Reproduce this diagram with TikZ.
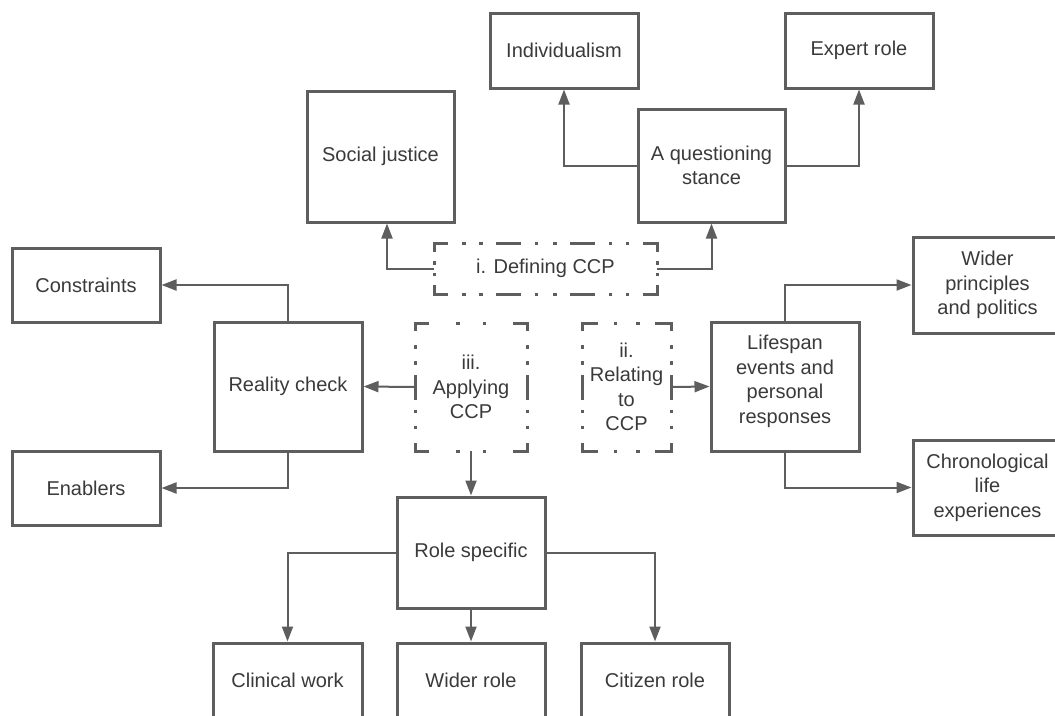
\documentclass[tikz,border=0pt]{standalone}
\usepackage{fontspec}
\setmainfont{Liberation Sans}
\usetikzlibrary{arrows.meta,calc}
\definecolor{ln}{HTML}{5E5E5E}
\definecolor{tx}{HTML}{3A3A3A}
\newcommand\dashedframe[3]{%
  \draw[dline, dash pattern=#2] (#1.north west) -- (#1.north);
  \draw[dline, dash pattern=#2] (#1.north east) -- (#1.north);
  \draw[dline, dash pattern=#2] (#1.south west) -- (#1.south);
  \draw[dline, dash pattern=#2] (#1.south east) -- (#1.south);
  \draw[dline, dash pattern=#3] (#1.north west) -- (#1.west);
  \draw[dline, dash pattern=#3] (#1.south west) -- (#1.west);
  \draw[dline, dash pattern=#3] (#1.north east) -- (#1.east);
  \draw[dline, dash pattern=#3] (#1.south east) -- (#1.east);
}
\begin{document}
\begin{tikzpicture}[x=1pt,y=-1pt,
  box/.style={draw=ln, line width=3pt, text=tx, align=center, inner sep=2pt,
    font=\fontsize{20}{24.5}\selectfont},
  dbox/.style={text=tx, align=center, outer sep=0pt, inner sep=0pt,
    font=\fontsize{20}{24.5}\selectfont},
  arr/.style={draw=ln, line width=2pt, -{Triangle[length=15pt,width=11pt]}},
  dline/.style={draw=ln, line width=3pt, line cap=rect},
]
\useasboundingbox (0,0) rectangle (1055,715);
\clip (0,0) rectangle (1055,715);

% solid boxes
\node[box, minimum width=148pt, minimum height=75pt] (indiv) at (564,50.5) {Individualism};
\node[box, minimum width=148pt, minimum height=75pt] (expert) at (859,50.5) {Expert role};
\node[box, minimum width=147pt, minimum height=131pt] (socj) at (380.5,156.5) {Social justice};
\node[box, minimum width=147pt, minimum height=113pt] (qs) at (711.5,165.5) {A questioning\\stance};
\node[box, minimum width=148pt, minimum height=74pt] (constr) at (86,285) {Constraints};
\node[box, minimum width=148pt, minimum height=129pt] (reality) at (288,386.5) {Reality check};
\node[box, minimum width=148pt, minimum height=74pt] (enabl) at (86,488) {Enablers};
\node[box, minimum width=148pt, minimum height=129pt] (life) at (785,386.5) {};
\node[text=tx, align=center, font=\fontsize{20}{24.5}\selectfont] (lifetxt) at ([yshift=5pt]life.center) {Lifespan\\events and\\personal\\responses};
\node[box, minimum width=149pt, minimum height=96pt] (widerp) at (987.5,285) {Wider\\principles\\and politics};
\node[box, minimum width=149pt, minimum height=95pt] (chrono) at (987.5,487.5) {Chronological\\life\\experiences};
\node[box, minimum width=148pt, minimum height=111pt] (role) at (471,552.5) {Role specific};
\node[box, minimum width=149pt, minimum height=75pt] (clin) at (287.5,680.5) {Clinical work};
\node[box, minimum width=148pt, minimum height=75pt] (wrole) at (471,680.5) {Wider role};
\node[box, minimum width=148pt, minimum height=75pt] (citz) at (655,680.5) {Citizen role};

% dashed boxes
\node[dbox, minimum width=223pt, minimum height=51pt] (def) at (545.5,268.5) {i. Defining CCP};
\node[dbox, minimum width=112pt, minimum height=128pt] (app) at (471,387) {iii.\\Applying\\CCP};
\node[dbox, minimum width=89pt, minimum height=128pt] (rel) at (626.5,387) {ii.\\Relating\\to\\CCP};

\dashedframe{def}{on 12.5pt off 17pt on 0.5pt off 16.5pt on 0.5pt off 16.5pt on 22pt off 16.5pt on 0.5pt off 40pt}{on 7.5pt off 12pt on 0.5pt off 20pt}
\dashedframe{app}{on 12.5pt off 30pt on 0.5pt off 30pt}{on 6.5pt off 17pt on 0.5pt off 15.5pt on 0.5pt off 13pt on 20pt off 10pt}
\dashedframe{rel}{on 14.5pt off 18.5pt on 0.5pt off 20pt}{on 6.5pt off 17pt on 0.5pt off 15.5pt on 0.5pt off 13pt on 20pt off 10pt}

% connectors
\draw[arr] (def.west) -| ([xshift=6.5pt]socj.south);
\draw[arr] (def.east) -| (qs.south);
\draw[arr] (qs.west) -| (indiv.south);
\draw[arr] (qs.east) -| (expert.south);
\draw[arr] (app.west) -- (reality.east);
\draw[arr] (reality.north) |- (constr.east);
\draw[arr] (reality.south) |- (enabl.east);
\draw[arr] (app.south) -- (role.north);
\draw[arr] (role.west) -| (clin.north);
\draw[arr] (role.south) -- (wrole.north);
\draw[arr] (role.east) -| (citz.north);
\draw[arr] (rel.east) -- (life.west);
\draw[arr] (life.north) |- (widerp.west);
\draw[arr] (life.south) |- (chrono.west);
\end{tikzpicture}
\end{document}
